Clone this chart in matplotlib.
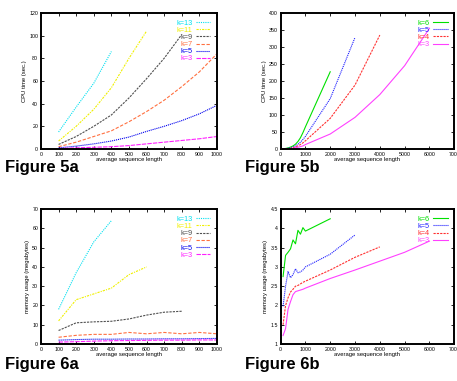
import numpy as np
import matplotlib.pyplot as plt

plt.rcParams['font.family'] = ['Liberation Sans', 'DejaVu Sans']

# Figure 5a - CPU time, small k
x5a = [100, 200, 300, 400, 500, 600, 700, 800, 900, 1000]
cpu5a = {
    'k=13': [15, 37, 58, 86],
    'k=11': [7, 20, 35, 54, 80, 104],
    'k=9': [4, 11, 20, 30, 45, 62, 80, 101],
    'k=7': [2, 6, 11, 16, 24, 33, 43, 55, 68, 84],
    'k=5': [1, 2.5, 4.5, 7, 10.5, 15.5, 20, 25, 31, 38.5],
    'k=3': [0.4, 1, 1.5, 2, 3, 4.5, 6, 7.5, 9, 11],
}

# Figure 5b - CPU time, long sequences
x5b = [100, 200, 300, 400, 500, 600, 700, 800, 900, 1000, 2000, 3000, 4000, 5000, 6000]
cpu5b = {
    'k=6': [0.5, 1.5, 3, 5.5, 9, 14, 22, 33, 48, 65, 227],
    'k=5': [0.3, 1, 2, 3.5, 6, 9, 14, 20, 28, 37, 148, 328],
    'k=4': [0.2, 0.6, 1.2, 2, 4, 6, 9, 13, 18, 24, 90, 188, 335],
    'k=3': [0.1, 0.3, 0.7, 1.2, 2, 3.5, 5, 7, 9, 13, 44, 93, 160, 245, 355],
}

# Figure 6a - memory usage
mem6a = {
    'k=13': [18, 37, 53, 64],
    'k=11': [12, 23, 26, 29, 36, 40],
    'k=9': [7, 11, 11.5, 11.8, 13, 15, 16.5, 17],
    'k=7': [3.5, 4.5, 5, 5, 6, 5.3, 6, 5.3, 6, 5.3],
    'k=5': [2, 2.3, 2.5, 2.5, 2.6, 2.6, 2.7, 2.7, 2.8, 2.9],
    'k=3': [1, 1.2, 1.5, 1.7, 1.8, 1.9, 2.0, 2.0, 2.1, 2.1],
}

# Figure 6b - memory usage, long sequences
mem6b = {
    'k=6': [2.75, 3.3, 3.38, 3.47, 3.7, 3.6, 3.95, 3.85, 4.02, 3.93, 4.25],
    'k=5': [1.98, 2.5, 2.88, 2.72, 2.8, 2.95, 2.85, 2.87, 2.92, 3.0, 3.33, 3.83],
    'k=4': [1.5, 2.0, 2.2, 2.35, 2.42, 2.5, 2.52, 2.56, 2.6, 2.63, 2.92, 3.25, 3.52],
    'k=3': [1.22, 1.4, 1.9, 2.1, 2.28, 2.36, 2.38, 2.4, 2.42, 2.45, 2.7, 2.92, 3.15, 3.38, 3.67],
}

styles_a = {
    'k=13': ('#00e0f0', (0, (1, 1))),
    'k=11': ('#f0f000', (0, (2, 1, 1, 1))),
    'k=9': ('#505050', (0, (2, 1))),
    'k=7': ('#ff7040', (0, (3, 1.5))),
    'k=5': ('#0000ee', (0, (1, 0.8))),
    'k=3': ('#ff20ff', (0, (4, 1))),
}
styles_b = {
    'k=6': ('#00e000', '-'),
    'k=5': ('#2020ff', (0, (1, 0.8))),
    'k=4': ('#ff3030', (0, (2, 1))),
    'k=3': ('#ff40ff', '-'),
}


def panel(rect, xs, series, styles, xmax, xstep, ylim, ystep, ylabel, yfmt):
    ax = fig.add_axes(rect)
    for name, ys in series.items():
        color, ls = styles[name]
        ax.plot(xs[:len(ys)], ys, color=color, linestyle=ls, lw=0.8, label=name)
    ax.set_xlim(0, xmax)
    ax.set_ylim(*ylim)
    ax.set_xticks(np.arange(0, xmax + 1, xstep))
    yt = np.arange(ylim[0], ylim[1] + ystep / 2, ystep)
    ax.set_yticks(yt)
    ax.set_yticklabels([yfmt(v) for v in yt])
    ax.tick_params(direction='in', length=2, width=0.6, labelsize=3.8,
                   top=True, right=True, pad=2)
    for s in ax.spines.values():
        s.set_linewidth(1.4)
    ax.set_xlabel('average sequence length', fontsize=4.2, labelpad=0.5)
    ax.set_ylabel(ylabel, fontsize=4.2, labelpad=1.5)
    ax.legend(loc='upper right', frameon=False, markerfirst=False,
              labelcolor='linecolor', fontsize=5.3, handlelength=2.0,
              handletextpad=0.4, labelspacing=0.0, borderaxespad=0.6,
              borderpad=0.3)
    return ax


fig = plt.figure(figsize=(4.57, 3.81), dpi=100)

intfmt = lambda v: '%d' % v
halffmt = lambda v: ('%g' % v)

panel([0.0897, 0.609, 0.385, 0.357], x5a, cpu5a, styles_a, 1000, 100,
      (0, 120), 20, 'CPU time (sec.)', intfmt)
panel([0.614, 0.609, 0.380, 0.357], x5b, cpu5b, styles_b, 7000, 1000,
      (0, 400), 50, 'CPU time (sec.)', intfmt)
panel([0.0897, 0.0971, 0.385, 0.354], x5a, mem6a, styles_a, 1000, 100,
      (0, 70), 10, 'memory usage (megabytes)', intfmt)
panel([0.614, 0.0971, 0.380, 0.354], x5b, mem6b, styles_b, 7000, 1000,
      (1, 4.5), 0.5, 'memory usage (megabytes)', halffmt)

for label, x, y in [('Figure 5a', 0.011, 0.541), ('Figure 5b', 0.536, 0.541),
                    ('Figure 6a', 0.011, 0.024), ('Figure 6b', 0.536, 0.024)]:
    fig.text(x, y, label, fontsize=12, fontweight='bold', ha='left', va='bottom')

fig.savefig('out.png', dpi=100)
